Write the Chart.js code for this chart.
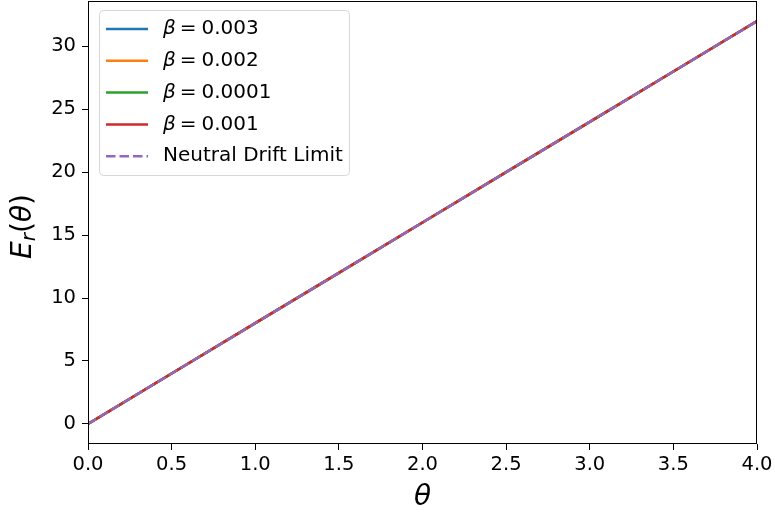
<!DOCTYPE html>
<html><head><meta charset="utf-8">
<script src="https://cdn.jsdelivr.net/npm/chart.js@4"></script>
<style>html,body{margin:0;padding:0;background:#fff}</style>
</head><body>
<canvas id="c" width="775" height="521"></canvas>
<script>
// ---- data ----
const thetaValues = [0, 0.5, 1.0, 1.5, 2.0, 2.5, 3.0, 3.5, 4.0];
const erBeta003  = [0, 4, 8, 12, 16, 20, 24, 28, 32];
const erBeta002  = [0, 4, 8, 12, 16, 20, 24, 28, 32];
const erBeta0001 = [0, 4, 8, 12, 16, 20, 24, 28, 32];
const erBeta001  = [0, 4, 8, 12, 16, 20, 24, 28, 32];
const neutralDrift = [0, 4, 8, 12, 16, 20, 24, 28, 32];
const seriesLabels = ['β = 0.003', 'β = 0.002', 'β = 0.0001', 'β = 0.001', 'Neutral Drift Limit'];
const xTicks = [0, 0.5, 1.0, 1.5, 2.0, 2.5, 3.0, 3.5, 4.0];
const yTicks = [0, 5, 10, 15, 20, 25, 30];
const xLabel = 'θ';

const FONT = "'DejaVu Sans'";
const pts = ys => thetaValues.map((x, i) => ({x: x, y: ys[i]}));
const seriesData = [erBeta003, erBeta002, erBeta0001, erBeta001, neutralDrift];
const colors = ['#1f77b4', '#ff7f0e', '#2ca02c', '#d62728', '#9467bd'];

const datasets = seriesData.map((d, i) => ({
  label: seriesLabels[i],
  data: pts(d),
  borderColor: colors[i],
  backgroundColor: colors[i],
  borderWidth: 2.5,
  borderDash: i === 4 ? [9.5, 4] : [],
  pointRadius: 0,
  tension: 0,
  fill: false,
  order: seriesData.length - 1 - i
}));

const framePlugin = {
  id: 'frame',
  afterDatasetsDraw(chart) {
    const ctx = chart.ctx, a = chart.chartArea;
    ctx.save();
    ctx.strokeStyle = '#000';
    ctx.lineWidth = 1;
    ctx.strokeRect(Math.round(a.left) + 0.5, Math.round(a.top) + 0.5,
                   Math.round(a.right - a.left) - 1, Math.round(a.bottom - a.top) - 1);
    ctx.restore();
  },
  afterDraw(chart) {
    const ctx = chart.ctx, a = chart.chartArea;
    ctx.save();
    // legend
    const lx = 99.5, ly = 10.5, lw = 250, lh = 165;
    ctx.beginPath();
    ctx.roundRect(lx, ly, lw, lh, 4);
    ctx.fillStyle = 'rgba(255,255,255,0.85)';
    ctx.fill();
    ctx.strokeStyle = '#d6d6d6';
    ctx.lineWidth = 1;
    ctx.stroke();
    const fs = 20;
    chart.data.datasets.forEach((ds, i) => {
      const cy = 29 + i * 31.8;
      ctx.beginPath();
      ctx.setLineDash(ds.borderDash || []);
      ctx.strokeStyle = ds.borderColor;
      ctx.lineWidth = 2.5;
      ctx.moveTo(106, cy);
      ctx.lineTo(148, cy);
      ctx.stroke();
      ctx.setLineDash([]);
      ctx.fillStyle = '#000';
      ctx.textBaseline = 'middle';
      ctx.textAlign = 'left';
      let x = 163;
      const lab = ds.label;
      if (lab.startsWith('β')) {
        ctx.font = 'italic ' + fs + 'px ' + FONT;
        ctx.fillText('β', x, cy);
        x += ctx.measureText('β').width + 4;
        ctx.font = fs + 'px ' + FONT;
        ctx.fillText('=', x, cy);
        x += ctx.measureText('=').width + 5;
        ctx.fillText(lab.split('=')[1].trim(), x, cy);
      } else {
        ctx.font = fs + 'px ' + FONT;
        ctx.fillText(lab, x, cy);
      }
    });
    // x axis title
    ctx.fillStyle = '#000';
    ctx.font = 'italic 28px ' + FONT;
    ctx.textAlign = 'center';
    ctx.textBaseline = 'middle';
    ctx.fillText(xLabel, (a.left + a.right) / 2, 498);
    // y axis title E_r(θ)
    ctx.translate(24, (a.top + a.bottom) / 2 + 4);
    ctx.rotate(-Math.PI / 2);
    const parts = [
      {t: 'E', f: 'italic 28px ' + FONT, dy: 0},
      {t: 'r', f: 'italic 20px ' + FONT, dy: 6},
      {t: '(', f: '28px ' + FONT, dy: 0},
      {t: 'θ', f: 'italic 28px ' + FONT, dy: 0},
      {t: ')', f: '28px ' + FONT, dy: 0}
    ];
    let tw = 0;
    parts.forEach(p => { ctx.font = p.f; p.w = ctx.measureText(p.t).width; tw += p.w; });
    let px = -tw / 2;
    ctx.textAlign = 'left';
    ctx.textBaseline = 'middle';
    parts.forEach(p => { ctx.font = p.f; ctx.fillText(p.t, px, p.dy); px += p.w; });
    ctx.restore();
  }
};

new Chart(document.getElementById('c'), {
  type: 'line',
  data: { datasets: datasets },
  options: {
    responsive: false,
    animation: false,
    devicePixelRatio: 1,
    layout: { padding: { left: 0, right: 18, top: 1, bottom: 0 } },
    plugins: { legend: { display: false }, tooltip: { enabled: false } },
    scales: {
      x: {
        type: 'linear', min: 0, max: 4,
        afterBuildTicks: s => { s.ticks = xTicks.map(v => ({value: v})); },
        afterFit: s => { s.height = 77; s.paddingLeft = 0; s.paddingRight = 0; },
        ticks: { callback: v => Number(v).toFixed(1), font: {family: 'DejaVu Sans', size: 19.5},
                 color: '#000', padding: 3, maxRotation: 0, autoSkip: false },
        grid: { drawOnChartArea: false, drawTicks: true, tickLength: 6, color: '#000', tickWidth: 1 },
        border: { display: false }
      },
      y: {
        type: 'linear', min: -1.6, max: 33.6,
        afterBuildTicks: s => { s.ticks = yTicks.map(v => ({value: v})); },
        afterFit: s => { s.width = 88; s.paddingTop = 0; s.paddingBottom = 0; },
        ticks: { callback: v => String(v), font: {family: 'DejaVu Sans', size: 19.5},
                 color: '#000', padding: 6, autoSkip: false },
        grid: { drawOnChartArea: false, drawTicks: true, tickLength: 6, color: '#000', tickWidth: 1 },
        border: { display: false }
      }
    }
  },
  plugins: [framePlugin]
});
</script></body></html>
